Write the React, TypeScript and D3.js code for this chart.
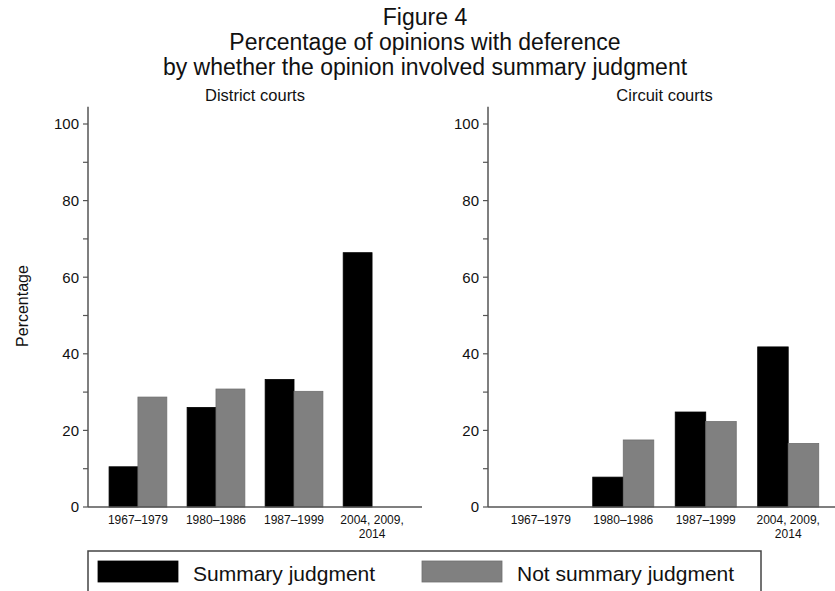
import React from "react";
import * as d3 from "d3";

// Period categories shared by both panels (multi-line tick labels)
const periods = ["1967–1979", "1980–1986", "1987–1999", "2004, 2009, 2014"];
const periodLabels = [["1967–1979"], ["1980–1986"], ["1987–1999"], ["2004, 2009,", "2014"]];

// Percentage of opinions with deference
const districtSummary = [10.5, 26.0, 33.3, 66.4];
const districtNotSummary = [28.7, 30.8, 30.2, 0];
const circuitSummary = [0, 7.8, 24.8, 41.8];
const circuitNotSummary = [0, 17.5, 22.3, 16.6];

const seriesNames = ["Summary judgment", "Not summary judgment"];
const seriesColors = ["#000000", "#808080"];
const seriesStrokes = ["#000000", "#6e6e6e"];

const majorTicks = [0, 20, 40, 60, 80, 100];
const minorTicks = [10, 30, 50, 70, 90];

const W = 835;
const H = 591;
const FONT = "'Liberation Sans', Arial, Helvetica, sans-serif";
const TEXT = "#111";
const AXIS = "#555";

type PanelProps = {
  title: string;
  x0: number;
  x1: number;
  summary: number[];
  notSummary: number[];
};

const yTop = 124;
const yBottom = 507;
const y = d3.scaleLinear().domain([0, 100]).range([yBottom, yTop]);

function Panel({ title, x0, x1, summary, notSummary }: PanelProps) {
  const x = d3
    .scaleBand<string>()
    .domain(periods)
    .range([x0, x1])
    .paddingInner(0.26)
    .paddingOuter(0.27);
  const inner = d3
    .scaleBand<number>()
    .domain([0, 1])
    .range([0, x.bandwidth()]);
  const series = [summary, notSummary];

  return (
    <g>
      <text
        x={(x0 + x1) / 2}
        y={101}
        textAnchor="middle"
        fontSize={16.5}
        fill={TEXT}
      >
        {title}
      </text>
      {/* bars */}
      {periods.map((p, i) => (
        <g key={p}>
          {series.map((vals, s) =>
            vals[i] > 0 ? (
              <rect
                key={s}
                x={(x(p) as number) + (inner(s) as number)}
                y={y(vals[i])}
                width={inner.bandwidth()}
                height={y(0) - y(vals[i])}
                fill={seriesColors[s]}
                stroke={seriesStrokes[s]}
                strokeWidth={0.8}
              />
            ) : null
          )}
        </g>
      ))}
      {/* y axis */}
      <line x1={x0} x2={x0} y1={y(0)} y2={y(104.5)} stroke={AXIS} strokeWidth={1.5} />
      {minorTicks.map((t) => (
        <line key={"m" + t} x1={x0 - 5} x2={x0} y1={y(t)} y2={y(t)} stroke={AXIS} strokeWidth={1.2} />
      ))}
      {majorTicks.map((t) => (
        <g key={t}>
          <line x1={x0 - 5} x2={x0} y1={y(t)} y2={y(t)} stroke={AXIS} strokeWidth={1.2} />
          <text
            x={x0 - 9}
            y={y(t)}
            dy="0.36em"
            textAnchor="end"
            fontSize={15}
            fill={TEXT}
          >
            {t}
          </text>
        </g>
      ))}
      {/* x axis */}
      <line x1={x0} x2={x1} y1={y(0)} y2={y(0)} stroke={AXIS} strokeWidth={1.5} />
      {periods.map((p, i) =>
        periodLabels[i].map((line, k) => (
          <text
            key={"l" + p + k}
            x={(x(p) as number) + x.bandwidth() / 2}
            y={524 + k * 14}
            textAnchor="middle"
            fontSize={12}
            fill={TEXT}
          >
            {line}
          </text>
        ))
      )}
    </g>
  );
}

export default function App() {
  return (
    <svg
      width={W}
      height={H}
      style={{ position: "absolute", left: 0, top: 0, background: "#fff" }}
      fontFamily={FONT}
    >
      <rect width={W} height={H} fill="#fff" />
      <g fill={TEXT} fontSize={23} textAnchor="middle">
        <text x={425} y={25}>Figure 4</text>
        <text x={425} y={50}>Percentage of opinions with deference</text>
        <text x={425} y={75}>by whether the opinion involved summary judgment</text>
      </g>
      <text
        transform={`translate(28, 306) rotate(-90)`}
        textAnchor="middle"
        fontSize={16}
        fill={TEXT}
      >
        Percentage
      </text>
      <Panel
        title="District courts"
        x0={88}
        x1={422}
        summary={districtSummary}
        notSummary={districtNotSummary}
      />
      <Panel
        title="Circuit courts"
        x0={488}
        x1={841}
        summary={circuitSummary}
        notSummary={circuitNotSummary}
      />
      {/* legend */}
      <rect x={88} y={551} width={673} height={60} fill="#fff" stroke="#444" strokeWidth={1.5} />
      {seriesNames.map((name, i) => {
        const sx = i === 0 ? 98 : 422;
        return (
          <g key={name}>
            <rect
              x={sx}
              y={561}
              width={80}
              height={21}
              fill={seriesColors[i]}
              stroke={seriesStrokes[i]}
              strokeWidth={0.8}
            />
            <text x={sx + 95} y={581} fontSize={21} fill={TEXT}>
              {name}
            </text>
          </g>
        );
      })}
    </svg>
  );
}
